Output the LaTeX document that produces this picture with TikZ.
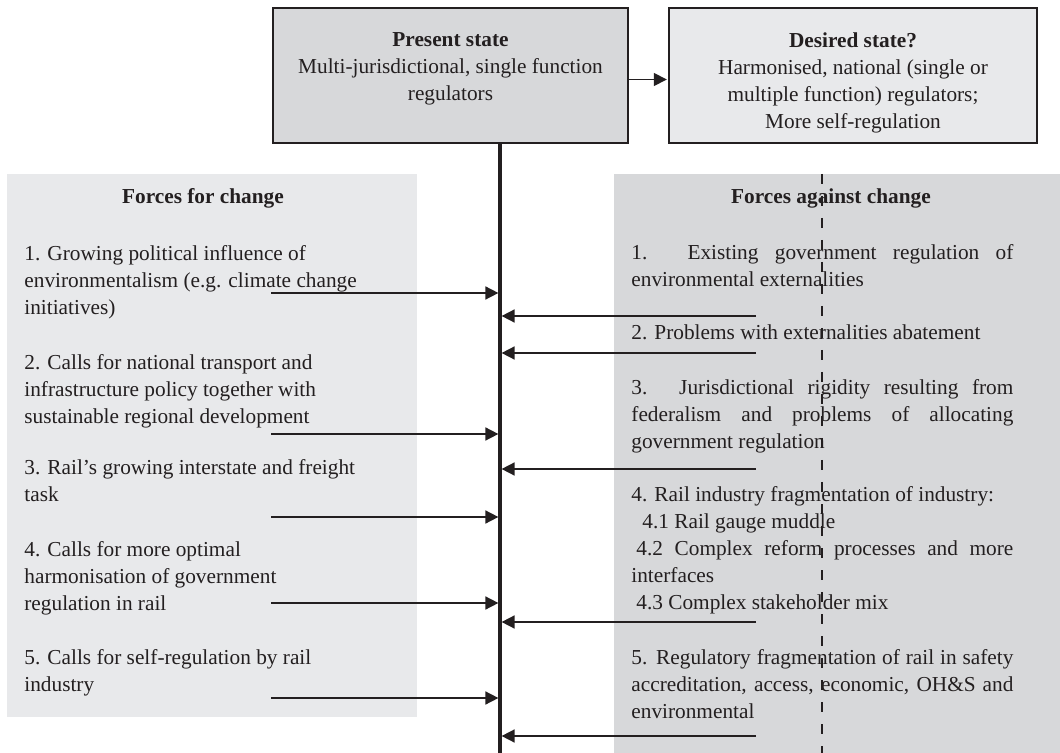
\documentclass[tikz,border=0pt]{standalone}
\usepackage{fontspec}
\setmainfont{Liberation Serif}
\usetikzlibrary{arrows.meta}

\definecolor{darkfill}{RGB}{215,216,218}
\definecolor{lightfill}{RGB}{232,233,235}
\definecolor{inkgray}{RGB}{35,31,32}

\begin{document}
\begin{tikzpicture}[
    x=0.5pt, y=-0.5pt,
    every node/.style={font=\fontsize{10.65}{13.5}\selectfont, text=inkgray},
    statebox/.style={rectangle, draw=inkgray, line width=0.6pt, minimum width=177.5pt, minimum height=67.5pt, inner sep=0pt},
    forceL/.style={anchor=north west, inner sep=0pt, align=left},
    forceR/.style={anchor=north west, inner sep=0pt, text width=191pt, align=justify},
    arrow/.style={-{Triangle[length=6.5pt, width=6.5pt]}, line width=0.8pt, draw=inkgray, shorten >=0.8pt},
    axis/.style={line width=1.6pt, draw=inkgray}
]
    \useasboundingbox (0,0) rectangle (1060,753);

    % Panels
    \fill[lightfill] (7,174) rectangle (417,717);
    \fill[darkfill] (614,174) rectangle (1060,753);

    % Present and desired state
    \node[statebox, fill=darkfill] (present) at (450.5,75.5) {};
    \node[statebox, fill=lightfill, minimum width=184pt] (desired) at (853,75.5) {};
    \node[anchor=north, align=center] (presenttxt) at ([yshift=-9pt]present.north)
        {\textbf{Present state}\\Multi-jurisdictional, single function\\regulators};
    \node[anchor=north, align=center] (desiredtxt) at ([yshift=-9pt]desired.north)
        {\textbf{Desired state?}\\Harmonised, national (single or\\multiple function) regulators;\\More self-regulation};
    \draw[arrow] ([yshift=-2pt]present.east) -- ([yshift=-2pt]desired.west);

    % Axis and dashed divider
    \coordinate (axbot) at (500,753);
    \coordinate (dashtop) at (822,174);
    \coordinate (dashbot) at (822,753);
    \draw[inkgray, line width=1.2pt, dash pattern=on 5pt off 6pt] (dashtop) -- (dashbot);
    \draw[axis] (present.south -| axbot) -- (axbot);

    % Forces for change
    \node (fortitle) at (203,198) {\textbf{Forces for change}};
    \node[forceL] (for1) at (24,245.5) {1. Growing political influence of\\environmentalism (e.g. climate change\\initiatives)};
    \node[forceL] (for2) at (24,354.5) {2. Calls for national transport and\\infrastructure policy together with\\sustainable regional development};
    \node[forceL] (for3) at (24,459.5) {3. Rail's growing interstate and freight\\task};
    \node[forceL] (for4) at (24,541.5) {4. Calls for more optimal\\harmonisation of government\\regulation in rail};
    \node[forceL] (for5) at (24,649.5) {5. Calls for self-regulation by rail\\industry};

    % Forces against change
    \node (againsttitle) at (831,198) {\textbf{Forces against change}};
    \node[forceR] (against1) at (631,244.5) {1. Existing government regulation of\linebreak environmental externalities};
    \node[forceR] (against2) at (631,324.5) {2. Problems with externalities abatement};
    \node[forceR] (against3) at (631,379.5) {3. Jurisdictional rigidity resulting from\linebreak federalism and problems of allocating\linebreak government regulation};
    \node[forceR] (against4) at (631,486.5) {4. Rail industry fragmentation of industry:\newline
        \hspace*{5.5pt}4.1 Rail gauge muddle\newline
        \hspace*{2.5pt}4.2 Complex reform processes and more\linebreak interfaces\newline
        \hspace*{2.5pt}4.3 Complex stakeholder mix};
    \node[forceR] (against5) at (631,649.5) {5. Regulatory fragmentation of rail in safety\linebreak accreditation, access, economic, OH\&S and\linebreak environmental};

    % Pushing arrows
    \coordinate (push1) at (271,293);
    \coordinate (push2) at (271,434);
    \coordinate (push3) at (271,517);
    \coordinate (push4) at (271,603);
    \coordinate (push5) at (271,698);
    \draw[arrow] (push1) -- (push1 -| axbot);
    \draw[arrow] (push2) -- (push2 -| axbot);
    \draw[arrow] (push3) -- (push3 -| axbot);
    \draw[arrow] (push4) -- (push4 -| axbot);
    \draw[arrow] (push5) -- (push5 -| axbot);

    % Resisting arrows
    \coordinate (resist1) at (756,316);
    \coordinate (resist2) at (756,353);
    \coordinate (resist3) at (756,469);
    \coordinate (resist4) at (756,622);
    \coordinate (resist5) at (756,736);
    \draw[arrow] (resist1) -- (resist1 -| axbot);
    \draw[arrow] (resist2) -- (resist2 -| axbot);
    \draw[arrow] (resist3) -- (resist3 -| axbot);
    \draw[arrow] (resist4) -- (resist4 -| axbot);
    \draw[arrow] (resist5) -- (resist5 -| axbot);

\end{tikzpicture}
\end{document}
